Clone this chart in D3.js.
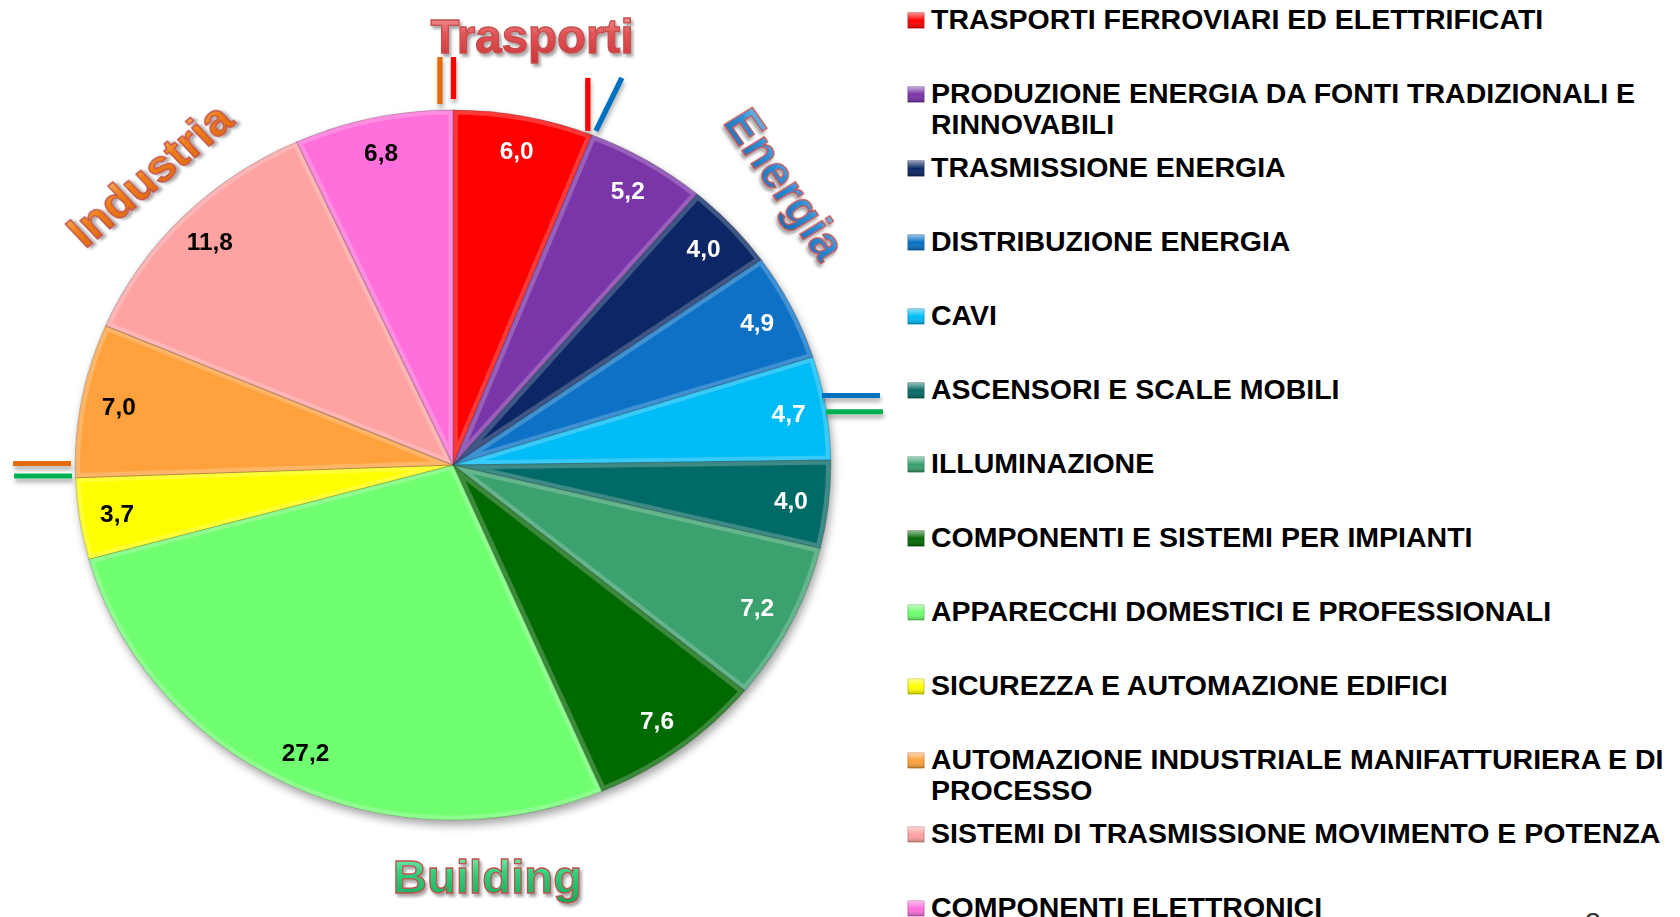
<!DOCTYPE html>
<html>
<head>
<meta charset="utf-8">
<script src="https://cdn.jsdelivr.net/npm/d3@7"></script>
<style>
  html, body { margin: 0; padding: 0; background: #fff; }
  svg { display: block; font-family: "Liberation Sans", Arial, sans-serif; }
</style>
</head>
<body>
<svg id="chart"></svg>
<script>
// data
let categories = [
    'TRASPORTI FERROVIARI ED ELETTRIFICATI',
    'PRODUZIONE ENERGIA DA FONTI TRADIZIONALI E RINNOVABILI',
    'TRASMISSIONE ENERGIA',
    'DISTRIBUZIONE ENERGIA',
    'CAVI',
    'ASCENSORI E SCALE MOBILI',
    'ILLUMINAZIONE',
    'COMPONENTI E SISTEMI PER IMPIANTI',
    'APPARECCHI DOMESTICI E PROFESSIONALI',
    'SICUREZZA E AUTOMAZIONE EDIFICI',
    'AUTOMAZIONE INDUSTRIALE MANIFATTURIERA E DI PROCESSO',
    'SISTEMI DI TRASMISSIONE MOVIMENTO E POTENZA',
    'COMPONENTI ELETTRONICI'
];
let values = [6.0, 5.2, 4.0, 4.9, 4.7, 4.0, 7.2, 7.6, 27.2, 3.7, 7.0, 11.8, 6.8];
let groupNames = ['Trasporti', 'Energia', 'Building', 'Industria'];
let groupFirstSlice = [0, 1, 5, 10];

// styles
let sliceColors = ['#ff0000', '#7a35a8', '#0c2866', '#0a72c6', '#00bcf6', '#066a66',
    '#3aa16e', '#056a05', '#70ff70', '#ffff00', '#ffa23e', '#ffa2a2', '#ff6fdc'];
let labelInk = ['#fff', '#fff', '#fff', '#fff', '#fff', '#fff', '#fff', '#fff',
    '#000', '#000', '#000', '#000', '#000'];
let groupColors = {Trasporti: '#ff0000', Energia: '#0070c0', Building: '#00b050', Industria: '#e46c0a'};
let groupFills = {
    Trasporti: ['#f7b0b0', '#e45358', '#c93336'],
    Energia: ['#8fd2f4', '#2b8fd6', '#176db5'],
    Building: ['#8ff5bf', '#2fd07c', '#16a55a'],
    Industria: ['#fbbd72', '#f07f18', '#d8640a']
};

const W = 1680, H = 917, SX = 1.064;
const R = 355, CX = 425.8, CY = 465;

let svg = d3.select('#chart').attr('width', W).attr('height', H);
let defs = svg.append('defs');

let f1 = defs.append('filter').attr('id', 'pieShadow').attr('x', '-10%').attr('y', '-10%').attr('width', '120%').attr('height', '125%');
f1.append('feDropShadow').attr('dx', 2).attr('dy', 5).attr('stdDeviation', 4).attr('flood-color', '#000').attr('flood-opacity', 0.35);
let f2 = defs.append('filter').attr('id', 'txtShadow').attr('x', '-10%').attr('y', '-20%').attr('width', '130%').attr('height', '150%');
f2.append('feDropShadow').attr('dx', 2).attr('dy', 3).attr('stdDeviation', 1.5).attr('flood-color', '#000').attr('flood-opacity', 0.35);
let f3 = defs.append('filter').attr('id', 'lineShadow').attr('x', '-20%').attr('y', '-100%').attr('width', '140%').attr('height', '400%');
f3.append('feDropShadow').attr('dx', 1).attr('dy', 4).attr('stdDeviation', 2).attr('flood-color', '#000').attr('flood-opacity', 0.3);

groupNames.forEach(function(g) {
    let lg = defs.append('linearGradient').attr('id', 'grad' + g).attr('x1', 0).attr('y1', 0).attr('x2', 0).attr('y2', 1);
    lg.append('stop').attr('offset', '0%').attr('stop-color', groupFills[g][0]);
    lg.append('stop').attr('offset', '45%').attr('stop-color', groupFills[g][1]);
    lg.append('stop').attr('offset', '100%').attr('stop-color', groupFills[g][2]);
});
let gloss = defs.append('linearGradient').attr('id', 'gloss').attr('x1', 0).attr('y1', 0).attr('x2', 0).attr('y2', 1);
gloss.append('stop').attr('offset', '0%').attr('stop-color', '#fff').attr('stop-opacity', 0.55);
gloss.append('stop').attr('offset', '50%').attr('stop-color', '#fff').attr('stop-opacity', 0);
gloss.append('stop').attr('offset', '100%').attr('stop-color', '#000').attr('stop-opacity', 0.25);

// whole picture is slightly stretched horizontally
let root = svg.append('g').attr('transform', 'scale(' + SX + ',1)');

let pie = d3.pie().value(function(d) { return d; }).sort(null);
let arcs = pie(values);
let arc = d3.arc().innerRadius(0).outerRadius(R);
let labelArc = d3.arc().innerRadius(R * 0.9).outerRadius(R * 0.9);

defs.selectAll('clipPath.slice')
    .data(arcs)
    .enter()
    .append('clipPath')
    .attr('class', 'slice')
    .attr('id', function(d, i) { return 'clip' + i; })
    .append('path')
    .attr('d', arc);

let pieG = root.append('g')
    .attr('transform', 'translate(' + CX + ',' + CY + ')')
    .attr('filter', 'url(#pieShadow)');

let slices = pieG.selectAll('.slice')
    .data(arcs)
    .enter()
    .append('g')
    .attr('class', 'slice');
slices.append('path')
    .attr('d', arc)
    .attr('fill', function(d, i) { return sliceColors[i]; });
// bevel highlight along the slice edges
slices.append('path')
    .attr('d', arc)
    .attr('fill', 'none')
    .attr('stroke', '#fff')
    .attr('stroke-opacity', 0.22)
    .attr('stroke-width', 9)
    .attr('clip-path', function(d, i) { return 'url(#clip' + i + ')'; });
slices.append('path')
    .attr('d', arc)
    .attr('fill', 'none')
    .attr('stroke', '#000')
    .attr('stroke-opacity', 0.22)
    .attr('stroke-width', 1);

root.append('g')
    .attr('class', 'labels')
    .selectAll('text')
    .data(arcs)
    .enter()
    .append('text')
    .attr('x', function(d) { return CX + labelArc.centroid(d)[0]; })
    .attr('y', function(d) { return CY + labelArc.centroid(d)[1]; })
    .attr('dy', '0.36em')
    .attr('text-anchor', 'middle')
    .attr('font-size', 23)
    .attr('font-weight', 'bold')
    .attr('fill', function(d, i) { return labelInk[i]; })
    .text(function(d) { return d.value.toFixed(1).replace('.', ','); });

// group separators, anchored on the slice boundary where each group starts
let tickLayout = [
    [{g: 'Industria', x1: -12.3, y1: -53, x2: -12.3, y2: -6}, {g: 'Trasporti', x1: 0.4, y1: -53, x2: 0.4, y2: -11}],
    [{g: 'Trasporti', x1: -3.9, y1: -57, x2: -3.9, y2: -4}, {g: 'Energia', x1: 3.7, y1: -4, x2: 28.1, y2: -57}],
    [{g: 'Energia', x1: -8.2, y1: -64.5, x2: 46.3, y2: -64.5}, {g: 'Building', x1: -4.5, y1: -48.2, x2: 49.1, y2: -48.2}],
    [{g: 'Industria', x1: -58.8, y1: -14.2, x2: -4.3, y2: -14.2}, {g: 'Building', x1: -57.8, y1: -1.7, x2: -3.3, y2: -1.7}]
];
let tickG = root.append('g').attr('class', 'group-ticks').attr('filter', 'url(#lineShadow)');
groupFirstSlice.forEach(function(si, k) {
    let a = arcs[si].startAngle;
    let ax = CX + R * Math.sin(a), ay = CY - R * Math.cos(a);
    tickG.selectAll('.t' + k)
        .data(tickLayout[k])
        .enter()
        .append('line')
        .attr('x1', function(d) { return ax + d.x1; })
        .attr('y1', function(d) { return ay + d.y1; })
        .attr('x2', function(d) { return ax + d.x2; })
        .attr('y2', function(d) { return ay + d.y2; })
        .attr('stroke', function(d) { return groupColors[d.g]; })
        .attr('stroke-width', 5);
});

// WordArt-like group titles
let titleLayout = {
    Trasporti: {x: 500, y: 53, rot: 0, size: 48, len: 191},
    Energia: {x: 738.5, y: 184, rot: 57, size: 46, mid: true},
    Building: {x: 458.2, y: 893, rot: 0, size: 47, len: 178},
    Industria: {x: 140, y: 174, rot: -41.5, size: 45, mid: true}
};
groupNames.forEach(function(g) {
    let t = titleLayout[g];
    let txt = root.append('text')
        .attr('transform', 'translate(' + t.x + ',' + t.y + ') rotate(' + t.rot + ')')
        .attr('text-anchor', 'middle')
        .attr('dy', t.mid ? '0.36em' : 0)
        .attr('font-size', t.size)
        .attr('font-weight', 'bold')
        .attr('fill', 'url(#grad' + g + ')')
        .attr('stroke', '#c0504d')
        .attr('stroke-width', 1.3)
        .attr('filter', 'url(#txtShadow)')
        .text(g);
    if (t.len) txt.attr('textLength', t.len).attr('lengthAdjust', 'spacingAndGlyphs');
});

// legend
let legX = 853.4, legTextX = 875, legTop = 29.3, legStep = 74, lineStep = 30.7, maxW = 720;
let legend = root.append('g').attr('class', 'legend');
categories.forEach(function(c, i) {
    let row = legend.append('g').attr('transform', 'translate(0,' + (legTop + legStep * i) + ')');
    row.append('rect')
        .attr('x', legX).attr('y', -16.3).attr('width', 15).attr('height', 15)
        .attr('fill', sliceColors[i])
        .attr('stroke', d3.color(sliceColors[i]).darker(0.8))
        .attr('stroke-width', 0.8);
    row.append('rect')
        .attr('x', legX).attr('y', -16.3).attr('width', 15).attr('height', 15)
        .attr('fill', 'url(#gloss)');
    let text = row.append('text')
        .attr('x', legTextX)
        .attr('font-size', 26.8)
        .attr('font-weight', 'bold')
        .attr('fill', '#000');
    let words = c.split(' '), line = [], lineNo = 0;
    let tspan = text.append('tspan').attr('x', legTextX).attr('y', 0);
    words.forEach(function(w) {
        line.push(w);
        tspan.text(line.join(' '));
        if (tspan.node().getComputedTextLength() > maxW && line.length > 1) {
            line.pop();
            tspan.text(line.join(' '));
            line = [w];
            lineNo++;
            tspan = text.append('tspan').attr('x', legTextX).attr('y', lineNo * lineStep).text(w);
        }
    });
});

// slide number, cut by the bottom edge
root.append('text')
    .attr('x', 1489.7)
    .attr('y', 932)
    .attr('font-size', 26.8)
    .attr('fill', '#333')
    .text('2');
</script>
</body>
</html>
